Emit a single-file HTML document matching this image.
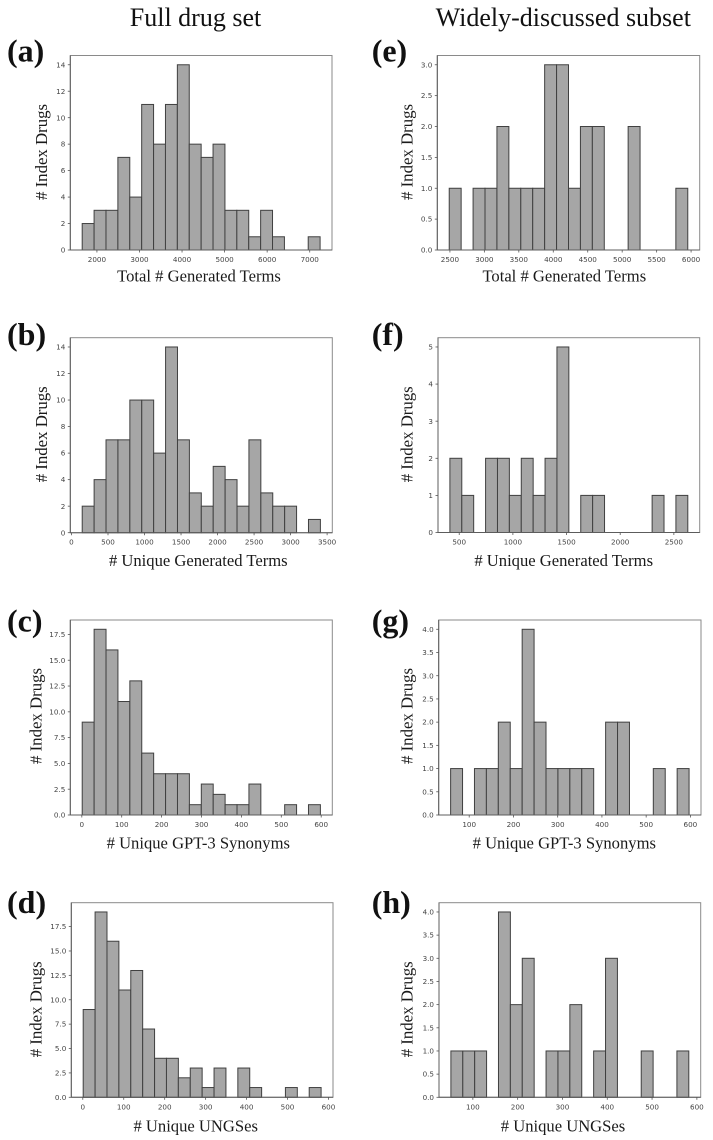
<!DOCTYPE html>
<html lang="en">
<head>
<meta charset="utf-8">
<title>Histograms of index drug term counts</title>
<style>
html,body{margin:0;padding:0;background:#fff;}
#figure{display:block;width:713px;height:1140px;}
.column-title{font:26px "Liberation Serif",serif;fill:#111;text-anchor:middle;}
.panel-letter{font:bold 32px "Liberation Serif",serif;fill:#111;}
.axis-title{font:16.6px "Liberation Serif",serif;fill:#1a1a1a;text-anchor:middle;}
.y-title{font-size:16.8px;}
.tick-label{font:7.2px "DejaVu Sans",sans-serif;fill:#444;}
.bar{fill:#a6a6a6;stroke:#404040;stroke-width:1;}
.frame{fill:none;stroke:#8a8a8a;stroke-width:1;}
.spine{stroke:#5c5c5c;stroke-width:1;}
.tick{stroke:#555;stroke-width:.8;}
.soft{filter:blur(.25px);}
</style>
</head>
<body>
<svg id="figure" xmlns="http://www.w3.org/2000/svg" width="713" height="1140" viewBox="0 0 713 1140">
  <rect width="713" height="1140" fill="#fff"/>
  <g id="plots" class="soft"></g>

  <text class="column-title" x="195.5" y="26">Full drug set</text>
  <text class="column-title" x="563.3" y="26">Widely-discussed subset</text>

  <text class="panel-letter" x="7" y="61.5">(a)</text>
  <text class="panel-letter" x="7" y="345">(b)</text>
  <text class="panel-letter" x="7" y="631.7">(c)</text>
  <text class="panel-letter" x="7" y="913">(d)</text>
  <text class="panel-letter" x="371.7" y="61.5">(e)</text>
  <text class="panel-letter" x="371.7" y="345">(f)</text>
  <text class="panel-letter" x="371.7" y="631.7">(g)</text>
  <text class="panel-letter" x="371.7" y="913">(h)</text>

  <text class="axis-title" x="199" y="281.5">Total # Generated Terms</text>
  <text class="axis-title" x="198.3" y="566"># Unique Generated Terms</text>
  <text class="axis-title" x="198.3" y="848.7"># Unique GPT-3 Synonyms</text>
  <text class="axis-title" x="195.7" y="1131.3"># Unique UNGSes</text>
  <text class="axis-title" x="564.3" y="281.5">Total # Generated Terms</text>
  <text class="axis-title" x="563.7" y="566"># Unique Generated Terms</text>
  <text class="axis-title" x="564.3" y="848.7"># Unique GPT-3 Synonyms</text>
  <text class="axis-title" x="563" y="1131.3"># Unique UNGSes</text>

  <text class="axis-title y-title" transform="translate(47 152) rotate(-90)"># Index Drugs</text>
  <text class="axis-title y-title" transform="translate(47 434.3) rotate(-90)"># Index Drugs</text>
  <text class="axis-title y-title" transform="translate(41.3 716) rotate(-90)"># Index Drugs</text>
  <text class="axis-title y-title" transform="translate(41.3 1009.3) rotate(-90)"># Index Drugs</text>
  <text class="axis-title y-title" transform="translate(412.7 152) rotate(-90)"># Index Drugs</text>
  <text class="axis-title y-title" transform="translate(412.7 434.3) rotate(-90)"># Index Drugs</text>
  <text class="axis-title y-title" transform="translate(412.7 716) rotate(-90)"># Index Drugs</text>
  <text class="axis-title y-title" transform="translate(412.7 1009.3) rotate(-90)"># Index Drugs</text>
</svg>
<script>
// Bin counts (20 bins per histogram)
const countsA = [2,3,3,7,4,11,8,11,14,8,7,8,3,3,1,3,1,0,0,1];
const countsB = [2,4,7,7,10,10,6,14,7,3,2,5,4,2,7,3,2,2,0,1];
const countsC = [9,18,16,11,13,6,4,4,4,1,3,2,1,1,3,0,0,1,0,1];
const countsD = [9,19,16,11,13,7,4,4,2,3,1,3,0,3,1,0,0,1,0,1];
const countsE = [1,0,1,1,2,1,1,1,3,3,1,2,2,0,0,2,0,0,0,1];
const countsF = [2,1,0,2,2,1,2,1,2,5,0,1,1,0,0,0,0,1,0,1];
const countsG = [1,0,1,1,2,1,4,2,1,1,1,1,0,2,2,0,0,1,0,1];
const countsH = [1,1,1,0,4,2,3,0,1,1,2,0,1,3,0,0,1,0,0,1];

// Data range covered by the bins [first edge, last edge]
const binRangeA = [1654,7244];
const binRangeB = [147,3408];
const binRangeC = [1,598];
const binRangeD = [1,582];
const binRangeE = [2490,5952];
const binRangeF = [413,2630];
const binRangeG = [58,597];
const binRangeH = [51,582];

// Tick labels
const xTicksA = ["2000","3000","4000","5000","6000","7000"];
const xTicksB = ["0","500","1000","1500","2000","2500","3000","3500"];
const xTicksC = ["0","100","200","300","400","500","600"];
const xTicksD = ["0","100","200","300","400","500","600"];
const xTicksE = ["2500","3000","3500","4000","4500","5000","5500","6000"];
const xTicksF = ["500","1000","1500","2000","2500"];
const xTicksG = ["100","200","300","400","500","600"];
const xTicksH = ["100","200","300","400","500","600"];

const yTicksA = ["0","2","4","6","8","10","12","14"];
const yTicksB = ["0","2","4","6","8","10","12","14"];
const yTicksC = ["0.0","2.5","5.0","7.5","10.0","12.5","15.0","17.5"];
const yTicksD = ["0.0","2.5","5.0","7.5","10.0","12.5","15.0","17.5"];
const yTicksE = ["0.0","0.5","1.0","1.5","2.0","2.5","3.0"];
const yTicksF = ["0","1","2","3","4","5"];
const yTicksG = ["0.0","0.5","1.0","1.5","2.0","2.5","3.0","3.5","4.0"];
const yTicksH = ["0.0","0.5","1.0","1.5","2.0","2.5","3.0","3.5","4.0"];

// Panels tie the data arrays to a plot box on the page
const panels = [
  {id:'a', counts:countsA, range:binRangeA, xTicks:xTicksA, yTicks:yTicksA, left:70.3,  right:332,   top:55.5,  bottom:250},
  {id:'b', counts:countsB, range:binRangeB, xTicks:xTicksB, yTicks:yTicksB, left:70.3,  right:332.3, top:337.7, bottom:532.7},
  {id:'c', counts:countsC, range:binRangeC, xTicks:xTicksC, yTicks:yTicksC, left:70.3,  right:332.3, top:620,   bottom:815},
  {id:'d', counts:countsD, range:binRangeD, xTicks:xTicksD, yTicks:yTicksD, left:71.3,  right:333,   top:902.7, bottom:1097.3},
  {id:'e', counts:countsE, range:binRangeE, xTicks:xTicksE, yTicks:yTicksE, left:437.3, right:699.7, top:55.5,  bottom:250},
  {id:'f', counts:countsF, range:binRangeF, xTicks:xTicksF, yTicks:yTicksF, left:438,   right:699.7, top:337.7, bottom:532.5},
  {id:'g', counts:countsG, range:binRangeG, xTicks:xTicksG, yTicks:yTicksG, left:438.7, right:701,   top:620,   bottom:815},
  {id:'h', counts:countsH, range:binRangeH, xTicks:xTicksH, yTicks:yTicksH, left:439,   right:700.7, top:902.7, bottom:1097.3}
];

const SVG_NS = 'http://www.w3.org/2000/svg';
const plots = document.getElementById('plots');

function make(parent, tag, attrs) {
  const el = document.createElementNS(SVG_NS, tag);
  for (const key in attrs) el.setAttribute(key, attrs[key]);
  parent.appendChild(el);
  return el;
}

panels.forEach(function (p) {
  const group = make(plots, 'g', {});
  
  

  // Axis functions: 5% x margin and a 5% headroom on y, as in matplotlib
  const span = p.range[1] - p.range[0];
  const xLo = p.range[0] - span * 0.05;
  const xHi = p.range[1] + span * 0.05;
  const yHi = Math.max.apply(null, p.counts) * 1.05;
  const xScale = function (v) { return p.left + (v - xLo) / (xHi - xLo) * (p.right - p.left); };
  const yScale = function (v) { return p.bottom - v / yHi * (p.bottom - p.top); };

  const frame = make(group, 'rect', {class:'frame', x:p.left, y:p.top, width:p.right - p.left, height:p.bottom - p.top});
  
  

  const binWidth = span / p.counts.length;
  p.counts.forEach(function (count, i) {
    if (count === 0) return;
    const x0 = xScale(p.range[0] + i * binWidth);
    const x1 = xScale(p.range[0] + (i + 1) * binWidth);
    const y = yScale(count);
    const bar = make(group, 'rect', {class:'bar', x:x0, y:y, width:x1 - x0, height:yScale(0) - y});
    
    
  });

  const spineX = make(group, 'line', {class:'spine', x1:p.left, x2:p.right, y1:p.bottom, y2:p.bottom});
  
  
  const spineY = make(group, 'line', {class:'spine', x1:p.left, x2:p.left, y1:p.top, y2:p.bottom});
  
  

  p.xTicks.forEach(function (label) {
    const x = xScale(parseFloat(label));
    const tick = make(group, 'line', {class:'tick', x1:x, x2:x, y1:p.bottom, y2:p.bottom + 2.5});
    
    
    const text = make(group, 'text', {class:'tick-label', x:x, y:p.bottom + 12, 'text-anchor':'middle'});
    text.textContent = label;
    
    
  });

  p.yTicks.forEach(function (label) {
    const y = yScale(parseFloat(label));
    const tick = make(group, 'line', {class:'tick', x1:p.left - 2.5, x2:p.left, y1:y, y2:y});
    
    
    const text = make(group, 'text', {class:'tick-label', x:p.left - 5, y:y + 2.6, 'text-anchor':'end'});
    text.textContent = label;
    
    
  });
});
</script>
</body>
</html>
